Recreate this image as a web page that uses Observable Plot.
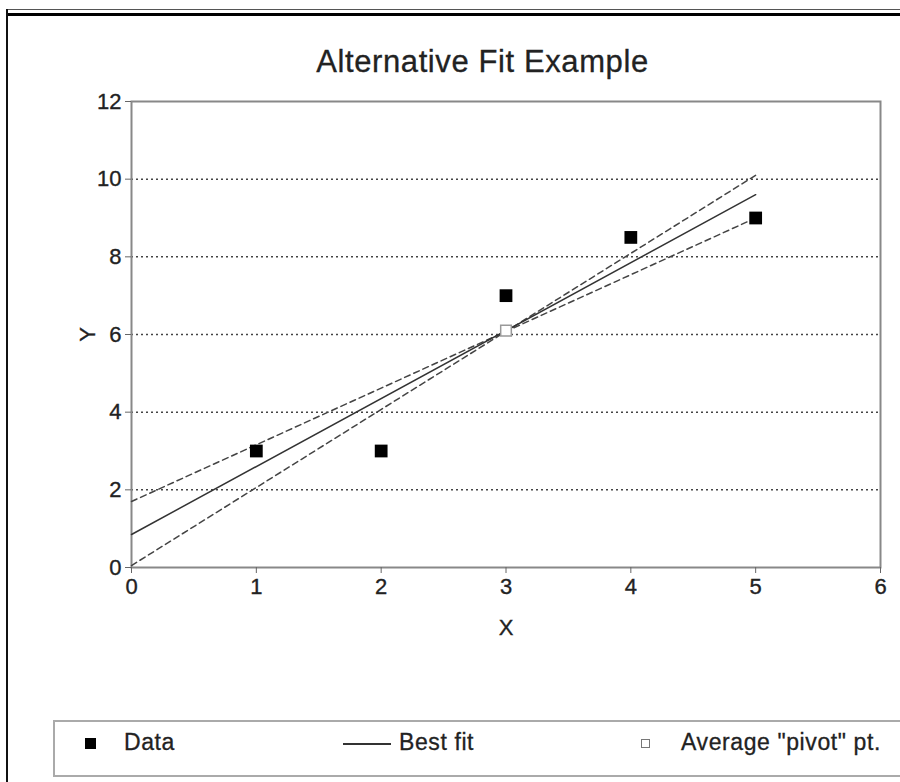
<!DOCTYPE html>
<html>
<head>
<meta charset="utf-8">
<script src="https://cdn.jsdelivr.net/npm/d3@7"></script>
<script src="https://cdn.jsdelivr.net/npm/@observablehq/plot@0.6"></script>
<style>
  html, body { margin: 0; padding: 0; background: #fff; }
  #wrap { position: relative; width: 900px; height: 782px; overflow: hidden; font-family: "Liberation Sans", Arial, Helvetica, sans-serif; color: #222; }
  #topthin { position: absolute; left: 6px; top: 9px; width: 900px; height: 1px; background: #555; }
  #topthick { position: absolute; left: 6px; top: 13px; width: 900px; height: 3px; background: #000; }
  #leftline { position: absolute; left: 6px; top: 9px; width: 2px; height: 780px; background: #111; }
  #title { position: absolute; left: 0; top: 46px; width: 965px; text-align: center; font-size: 31px; line-height: 31px; letter-spacing: 0.6px; color: #222; -webkit-text-stroke: 0.3px #222; }
  #chart { position: absolute; left: 0; top: 0; }
  #chart svg text { font-size: 22px; fill: #222; stroke: #222; stroke-width: 0.35px; }
  #legend { position: absolute; left: 53px; top: 720px; width: 860px; height: 57px; border: 2px solid #aaa; box-sizing: border-box; }
  .lg { position: absolute; font-size: 23px; line-height: 23px; letter-spacing: 0.6px; top: 9px; color: #222; white-space: nowrap; -webkit-text-stroke: 0.3px #222; }
  .sym { position: absolute; }
</style>
</head>
<body>
<div id="wrap">
  <div id="chart"></div>
  <div id="topthin"></div>
  <div id="topthick"></div>
  <div id="leftline"></div>
  <div id="title">Alternative Fit Example</div>
  <div id="legend"></div>
</div>
<script>
// Data
const dataX = [1, 2, 3, 4, 5];
const dataY = [3, 3, 7, 8.5, 9];
const pivotX = [3];
const pivotY = [6.1];
const fitX = [0, 5];
const bestFitY = [0.85, 9.6];
const steepFitY = [0.05, 10.1];
const shallowFitY = [1.7, 9.0];
const xTicks = [0, 1, 2, 3, 4, 5, 6];
const yTicks = [0, 2, 4, 6, 8, 10, 12];
const gridTicks = [2, 4, 6, 8, 10];
const legendLabels = ["Data", "Best fit", "Average \"pivot\" pt."];

const points = dataX.map((x, i) => ({x, y: dataY[i]}));
const pivot = pivotX.map((x, i) => ({x, y: pivotY[i]}));
const best = fitX.map((x, i) => ({x, y: bestFitY[i]}));
const steep = fitX.map((x, i) => ({x, y: steepFitY[i]}));
const shallow = fitX.map((x, i) => ({x, y: shallowFitY[i]}));

const chart = Plot.plot({
  width: 900,
  height: 782,
  marginLeft: 131,
  marginRight: 20,
  marginTop: 101,
  marginBottom: 215,
  style: { background: "transparent", fontFamily: "Liberation Sans, Arial, Helvetica, sans-serif", fontSize: "22px", color: "#222" },
  x: { domain: [0, 6] },
  y: { domain: [0, 12] },
  marks: [
    Plot.gridY(gridTicks, { stroke: "#444", strokeOpacity: 1, strokeWidth: 1.5, strokeDasharray: "2,3" }),
    Plot.frame({ stroke: "#888", strokeWidth: 2 }),
    Plot.axisX({ ticks: xTicks, tickFormat: d3.format("d"), tickSize: 6, tickPadding: 5, fontSize: 22, stroke: "#666", label: "X", labelAnchor: "center", labelArrow: "none", labelOffset: 67 }),
    Plot.axisY({ ticks: yTicks, tickFormat: d3.format("d"), tickSize: 6, tickPadding: 4, fontSize: 22, stroke: "#666", label: "Y", labelAnchor: "center", labelArrow: "none", labelOffset: 52 }),
    Plot.line(steep, { x: "x", y: "y", stroke: "#444", strokeWidth: 1.5, strokeDasharray: "6,4" }),
    Plot.line(shallow, { x: "x", y: "y", stroke: "#444", strokeWidth: 1.5, strokeDasharray: "6,4" }),
    Plot.line(best, { x: "x", y: "y", stroke: "#333", strokeWidth: 1.5 }),
    Plot.dot(pivot, { x: "x", y: "y", symbol: "square", r: 6, fill: "white", stroke: "#999", strokeWidth: 1.5 }),
    Plot.dot(points, { x: "x", y: "y", symbol: "square", r: 7.2, fill: "black", stroke: "none" })
  ]
});
document.getElementById("chart").appendChild(chart);

// Legend
const lg = document.getElementById("legend");
lg.innerHTML = `
  <div class="sym" style="left:30px;top:16px;width:11px;height:11px;background:#000;"></div>
  <div class="lg" style="left:69px;">${legendLabels[0]}</div>
  <div class="sym" style="left:288px;top:21px;width:48px;height:1.5px;background:#333;"></div>
  <div class="lg" style="left:344px;">${legendLabels[1]}</div>
  <div class="sym" style="left:586px;top:17px;width:7px;height:7px;border:1.5px solid #777;background:#fff;"></div>
  <div class="lg" style="left:626px;">${legendLabels[2].replace(/"/g, "&quot;")}</div>
`;
</script>
</body>
</html>
